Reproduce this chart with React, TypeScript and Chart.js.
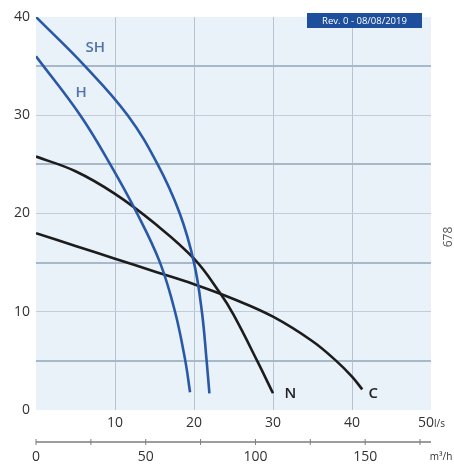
import React, { useEffect, useRef } from "react";
import { Chart, registerables } from "chart.js";

Chart.register(...registerables);

// Flow in l/s, head in m
const shFlow = [0, 6.2, 11.6, 15.4, 18.2, 20.0, 21.0, 21.6, 21.95];
const shHead = [40, 35, 30, 25, 20, 15, 10, 5, 1.7];

const hFlow = [0, 5.6, 9.4, 12.8, 15.7, 17.6, 18.9, 19.5];
const hHead = [36, 30, 25, 20, 15, 10, 5, 1.8];

const nFlow = [0, 5, 10, 15, 20, 23.3, 25, 28, 30];
const nHead = [25.8, 24.3, 22.0, 19.0, 15.4, 11.9, 9.7, 5.0, 1.7];

const cFlow = [0, 5, 10, 15, 20, 25, 30, 35, 38, 40, 41.3];
const cHead = [18, 16.7, 15.4, 14.1, 12.8, 11.3, 9.5, 7.0, 5.0, 3.4, 2.1];

const curveNames = ["SH", "H", "N", "C"];
const curveColors = ["#2858a6", "#2858a6", "#1c1c1c", "#1c1c1c"];
const labelColors = ["#4f73ad", "#4f73ad", "#222222", "#222222"];
// label anchors in data units (l/s, m)
const labelFlow = [7.5, 5.7, 32.2, 42.7];
const labelHead = [36.9, 32.3, 1.7, 1.7];

const m3Major = [0, 50, 100, 150];
const m3Minor = [25, 75, 125, 175];
const revText = "Rev. 0 - 08/08/2019";
const sideText = "678";

const FONT = '"Open Sans", "DejaVu Sans", sans-serif';

function pts(xs: number[], ys: number[]) {
  return xs.map((x, i) => ({ x, y: ys[i] }));
}

export default function App() {
  const ref = useRef<HTMLCanvasElement>(null);

  useEffect(() => {
    const canvas = ref.current!;
    const extras = {
      id: "extras",
      beforeDraw(chart: any) {
        const { ctx, chartArea: a } = chart;
        ctx.save();
        ctx.fillStyle = "#e9f1f9";
        ctx.fillRect(a.left, a.top, a.right - a.left, a.bottom - a.top);
        ctx.restore();
      },
      afterDraw(chart: any) {
        const ctx = chart.ctx;
        const xs = chart.scales.x;
        const ys = chart.scales.y;
        const a = chart.chartArea;
        ctx.save();

        // curve labels
        ctx.font = `600 15px ${FONT}`;
        ctx.textAlign = "center";
        ctx.textBaseline = "middle";
        curveNames.forEach((n, i) => {
          ctx.fillStyle = labelColors[i];
          ctx.fillText(n, xs.getPixelForValue(labelFlow[i]), ys.getPixelForValue(labelHead[i]));
        });

        // last l/s tick with unit
        ctx.fillStyle = "#333";
        ctx.font = `14px ${FONT}`;
        ctx.textAlign = "center";
        ctx.fillText("50", xs.getPixelForValue(50) - 5, a.bottom + 13);
        ctx.font = `10px ${FONT}`;
        ctx.textAlign = "left";
        ctx.fillText("l/s", xs.getPixelForValue(50) + 3, a.bottom + 14);

        // m3/h secondary axis
        const axisY = a.bottom + 32;
        const p = (m: number) => xs.getPixelForValue(m / 3.6);
        ctx.strokeStyle = "#7d7d7d";
        ctx.lineWidth = 1.5;
        ctx.beginPath();
        ctx.moveTo(xs.getPixelForValue(0), axisY);
        ctx.lineTo(xs.getPixelForValue(50), axisY);
        ctx.stroke();
        ctx.lineWidth = 1;
        [...m3Major, ...m3Minor].forEach((m) => {
          ctx.beginPath();
          ctx.moveTo(p(m), axisY - 3);
          ctx.lineTo(p(m), axisY + 3);
          ctx.stroke();
        });
        ctx.fillStyle = "#333";
        ctx.font = `14px ${FONT}`;
        ctx.textAlign = "center";
        m3Major.forEach((m) => ctx.fillText(String(m), p(m), axisY + 15));
        ctx.font = `10px ${FONT}`;
        ctx.fillText("m³/h", a.right + 10, axisY + 15);

        // revision box
        ctx.font = `9.5px ${FONT}`;
        const bw = 115;
        const bx = a.right - 9 - bw;
        const by = a.top - 4;
        ctx.fillStyle = "#1d4f9c";
        ctx.fillRect(bx, by, bw, 15);
        ctx.fillStyle = "#ffffff";
        ctx.textAlign = "center";
        ctx.fillText(revText, bx + bw / 2, by + 8);

        // side text
        ctx.translate(449, 237);
        ctx.rotate(-Math.PI / 2);
        ctx.fillStyle = "#555";
        ctx.font = `12px ${FONT}`;
        ctx.fillText(sideText, 0, 0);
        ctx.restore();
      },
    };

    const series = [pts(shFlow, shHead), pts(hFlow, hHead), pts(nFlow, nHead), pts(cFlow, cHead)];

    const chart = new Chart(canvas, {
      type: "line",
      data: {
        datasets: series.map((d, i) => ({
          label: curveNames[i],
          data: d,
          borderColor: curveColors[i],
          borderWidth: 2.6,
          pointRadius: 0,
          fill: false,
          tension: 0.4,
        })),
      },
      options: {
        responsive: false,
        maintainAspectRatio: false,
        animation: false,
        layout: { padding: { top: 17, right: 23, left: 0, bottom: 0 } },
        plugins: { legend: { display: false }, tooltip: { enabled: false } },
        scales: {
          x: {
            type: "linear",
            min: 0,
            max: 50,
            afterFit: (s: any) => {
              s.height = 56;
            },
            border: { display: false },
            grid: {
              drawTicks: false,
              color: (c: any) => (c.tick && (c.tick.value === 0 || c.tick.value === 50) ? "rgba(0,0,0,0)" : "#b8c3d1"),
              lineWidth: 1,
            },
            ticks: {
              stepSize: 10,
              autoSkip: false,
              maxRotation: 0,
              padding: 5,
              color: "#333",
              font: { family: FONT, size: 14 },
              callback: (v: any) => (v === 0 || v === 50 ? "" : String(v)),
            },
          },
          y: {
            type: "linear",
            min: 0,
            max: 40,
            afterFit: (s: any) => {
              s.width = 36;
            },
            border: { display: false },
            grid: {
              drawTicks: false,
              color: (c: any) => {
                const v = c.tick ? c.tick.value : 0;
                if (v === 0 || v === 40) return "rgba(0,0,0,0)";
                return v % 10 === 5 ? "#a9b7ca" : "#c3ccd8";
              },
              lineWidth: (c: any) => (c.tick && c.tick.value % 10 === 5 ? 2 : 1),
            },
            ticks: {
              stepSize: 5,
              autoSkip: false,
              padding: 6,
              color: "#333",
              font: { family: FONT, size: 14 },
              callback: (v: any) => (v % 10 === 0 ? String(v) : ""),
            },
          },
        },
      },
      plugins: [extras],
    });
    return () => chart.destroy();
  }, []);

  return (
    <div style={{ position: "fixed", left: 0, top: 0, width: 454, height: 466, background: "#fff" }}>
      <canvas ref={ref} width={454} height={466} style={{ display: "block" }} />
    </div>
  );
}
